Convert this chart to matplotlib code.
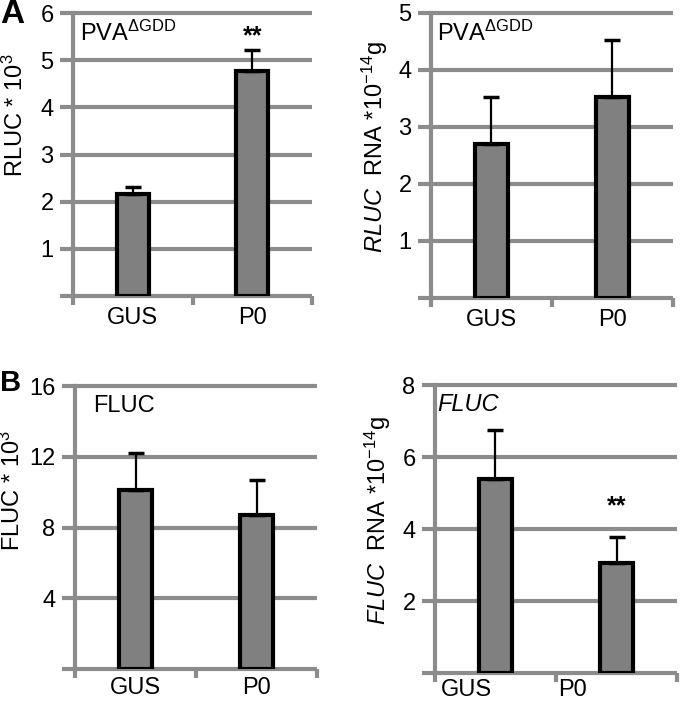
import numpy as np
import matplotlib
matplotlib.use("Agg")
import matplotlib.pyplot as plt

plt.rcParams["font.family"] = ["Liberation Sans", "DejaVu Sans"]
plt.rcParams["mathtext.fontset"] = "custom"
plt.rcParams["mathtext.rm"] = "Liberation Sans"
plt.rcParams["mathtext.it"] = "Liberation Sans:italic"
plt.rcParams["mathtext.bf"] = "Liberation Sans:bold"

# данные
categories = ["GUS", "P0"]

rluc_mean = [2.17, 4.77]
rluc_err = [0.14, 0.45]

rluc_rna_mean = [2.70, 3.53]
rluc_rna_err = [0.82, 1.00]

fluc_mean = [10.1, 8.7]
fluc_err = [2.1, 2.0]

fluc_rna_mean = [5.39, 3.05]
fluc_rna_err = [1.36, 0.73]

GRID = "#8c8c8c"
BAR = "#808080"
FS = 17


def draw_panel(ax, means, errs, ymax, yticks, ylabel, ylabel_xy, title, title_xy,
               title_style="normal", stars=None, xlabel_pos=(0, 1), xpad=8):
    x = np.arange(len(categories))
    ax.bar(x, means, width=0.27, color=BAR, edgecolor="black", linewidth=3, zorder=3)
    ax.errorbar(x, means, yerr=[np.zeros(len(errs)), errs], fmt="none",
                ecolor="black", elinewidth=1.6, capsize=6, capthick=2.5, zorder=4)

    ax.set_xlim(-0.5, 1.5)
    ax.set_ylim(0, ymax)

    # серая сетка, выходящая за левую ось
    for t in [0] + list(yticks):
        ax.plot([-0.5 - 0.11, 1.5], [t, t], color=GRID, lw=3, clip_on=False,
                zorder=1, solid_capstyle="butt")

    for s in ["top", "right", "bottom"]:
        ax.spines[s].set_visible(False)
    ax.spines["left"].set_color(GRID)
    ax.spines["left"].set_linewidth(3)
    ax.spines["left"].set_zorder(2)

    ax.set_yticks(yticks)
    ax.set_yticklabels([str(t) for t in yticks], fontsize=FS)

    # засечки по оси x на границах категорий
    for b in [-0.5, 0.5, 1.5]:
        ax.plot([b, b], [0, -ymax * 0.032], color=GRID, lw=3, clip_on=False,
                solid_capstyle="butt")
    ax.set_xticks(list(xlabel_pos))
    ax.set_xticklabels(categories, fontsize=FS)

    ax.tick_params(axis="y", length=0, pad=14)
    ax.tick_params(axis="x", length=0, pad=xpad)

    ax.set_ylabel(ylabel, fontsize=FS)
    ax.yaxis.set_label_coords(*ylabel_xy)

    ax.text(title_xy[0], title_xy[1], title, transform=ax.transAxes, fontsize=FS,
            style=title_style, ha="left", va="center")

    if stars is not None:
        ax.text(stars[0], stars[1], "**", fontsize=FS + 1, fontweight="bold",
                ha="center", va="center")


fig = plt.figure(figsize=(6.8, 7.02), dpi=100)

ax1 = fig.add_axes([0.1074, 0.5783, 0.3515, 0.4031])
draw_panel(ax1, rluc_mean, rluc_err, 6, [1, 2, 3, 4, 5, 6],
           r"RLUC * 10$^{3}$", (-0.188, 0.64),
           r"PVA$^{\Delta\mathrm{GDD}}$", (0.03, 0.93), stars=(1, 5.5))

ax2 = fig.add_axes([0.6338, 0.5755, 0.3559, 0.406])
draw_panel(ax2, rluc_rna_mean, rluc_rna_err, 5, [1, 2, 3, 4, 5],
           r"$\mathit{RLUC}$  RNA *10$^{-14}$g", (-0.17, 0.53),
           r"PVA$^{\Delta\mathrm{GDD}}$", (0.025, 0.93))

ax3 = fig.add_axes([0.1103, 0.047, 0.3559, 0.4031])
draw_panel(ax3, fluc_mean, fluc_err, 16, [4, 8, 12, 16],
           r"FLUC * 10$^{3}$", (-0.207, 0.63),
           "FLUC", (0.074, 0.93), xpad=6)

ax4 = fig.add_axes([0.6397, 0.041, 0.3559, 0.410])
draw_panel(ax4, fluc_rna_mean, fluc_rna_err, 8, [2, 4, 6, 8],
           r"$\mathit{FLUC}$  RNA *10$^{-14}$g", (-0.174, 0.53),
           "FLUC", (0.01, 0.934), title_style="italic", stars=(1, 4.64),
           xlabel_pos=(-0.24, 0.64), xpad=4)

fig.text(0.0, 0.979, "A", fontsize=24, fontweight="bold", ha="left", va="center")
fig.text(0.0, 0.455, "B", fontsize=21, fontweight="bold", ha="left", va="center")

fig.savefig("out.png", dpi=100)
